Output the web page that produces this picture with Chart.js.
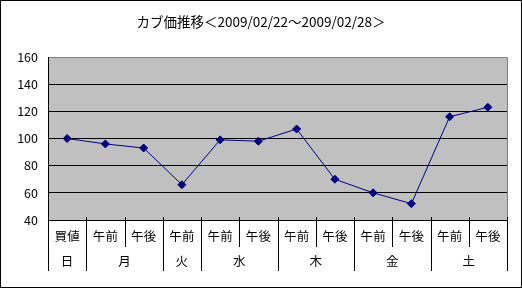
<!DOCTYPE html>
<html>
<head>
<meta charset="utf-8">
<script src="https://cdn.jsdelivr.net/npm/chart.js@4"></script>
<style>
  body { margin: 0; background: #fff; }
  #wrap { width: 520px; height: 286px; border: 1px solid #000; }
</style>
</head>
<body>
<div id="wrap"><canvas id="chart" width="520" height="286"></canvas></div>
<script>
const titleText = 'カブ価推移＜2009/02/22～2009/02/28＞';
const categories = ['買値', '午前', '午後', '午前', '午前', '午後', '午前', '午後', '午前', '午後', '午前', '午後'];
const days = ['日', '月', '火', '水', '木', '金', '土'];
const daySpans = [1, 2, 1, 2, 2, 2, 2];
const prices = [100, 96, 93, 66, 99, 98, 107, 70, 60, 52, 116, 123];
const yMin = 40;
const yMax = 160;
const yStep = 20;

const FONT = '"Noto Sans CJK JP", sans-serif';

// gray plot background with gray top/right border
const plotBg = {
  id: 'plotBg',
  beforeDraw(chart) {
    const { ctx, chartArea: a } = chart;
    ctx.save();
    ctx.fillStyle = '#c0c0c0';
    ctx.fillRect(a.left, a.top, a.right - a.left, a.bottom - a.top);
    ctx.strokeStyle = '#808080';
    ctx.lineWidth = 1;
    ctx.beginPath();
    ctx.moveTo(a.left, Math.round(a.top) + 0.5);
    ctx.lineTo(Math.round(a.right) + 0.5, Math.round(a.top) + 0.5);
    ctx.lineTo(Math.round(a.right) + 0.5, a.bottom);
    ctx.stroke();
    ctx.restore();
  }
};

// title + two-row category labels
const labelsPlugin = {
  id: 'labelsPlugin',
  afterDraw(chart) {
    const { ctx, chartArea: a } = chart;
    const x = chart.scales.x;
    const bottom = Math.round(a.bottom);
    const edge = i => Math.round(x.getPixelForValue(i - 0.5)) + 0.5;

    ctx.save();
    ctx.fillStyle = '#000';
    ctx.font = '13.5px ' + FONT;
    ctx.textAlign = 'center';
    ctx.textBaseline = 'middle';
    ctx.fillText(titleText, chart.width / 2, 21);

    ctx.strokeStyle = '#000';
    ctx.lineWidth = 1;
    ctx.font = '12.5px ' + FONT;

    // first row
    ctx.beginPath();
    for (let i = 0; i <= categories.length; i++) {
      ctx.moveTo(edge(i), bottom - 3);
      ctx.lineTo(edge(i), bottom + 27);
    }
    ctx.stroke();
    categories.forEach((c, i) => {
      ctx.fillText(c, x.getPixelForValue(i), bottom + 16);
    });

    // second row
    let start = 0;
    ctx.beginPath();
    ctx.moveTo(edge(0), bottom);
    ctx.lineTo(edge(0), bottom + 51);
    days.forEach((d, j) => {
      const end = start + daySpans[j];
      ctx.moveTo(edge(end), bottom);
      ctx.lineTo(edge(end), bottom + 51);
      ctx.fillText(d, (x.getPixelForValue(start - 0.5) + x.getPixelForValue(end - 0.5)) / 2, bottom + 41);
      start = end;
    });
    ctx.stroke();
    ctx.restore();
  }
};

new Chart(document.getElementById('chart'), {
  type: 'line',
  data: {
    labels: categories,
    datasets: [{
      data: prices,
      borderColor: '#000080',
      backgroundColor: '#000080',
      borderWidth: 1,
      pointStyle: 'rectRot',
      pointRadius: 4,
      pointHoverRadius: 4,
      tension: 0
    }]
  },
  options: {
    responsive: false,
    animation: false,
    events: [],
    layout: { padding: { top: 56, right: 14, bottom: 59, left: 0 } },
    plugins: {
      legend: { display: false },
      title: { display: false },
      tooltip: { enabled: false }
    },
    scales: {
      x: {
        type: 'category',
        offset: true,
        grid: { display: false },
        border: { display: true, color: '#000' },
        ticks: { display: false }
      },
      y: {
        min: yMin,
        max: yMax,
        afterFit: s => { s.width = 47; },
        ticks: {
          stepSize: yStep,
          padding: 10,
          color: '#000',
          font: { family: FONT, size: 12.5 }
        },
        grid: {
          drawTicks: false,
          color: c => (c.tick.value === yMax ? 'rgba(0,0,0,0)' : '#000')
        },
        border: { display: true, color: '#000' }
      }
    }
  },
  plugins: [plotBg, labelsPlugin]
});
</script>
</body>
</html>
